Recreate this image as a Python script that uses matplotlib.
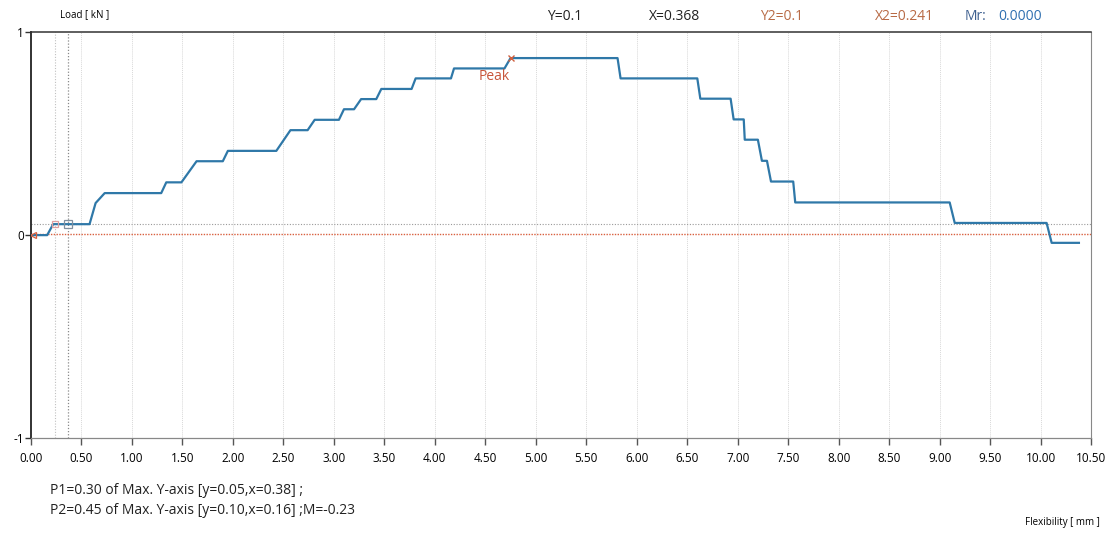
import matplotlib
matplotlib.use("Agg")
import matplotlib.pyplot as plt

plt.rcParams['font.family'] = ['Open Sans', 'DejaVu Sans']

# Load / flexibility curve (step-like vertices)
flex_mm = [0.00, 0.16, 0.22, 0.58, 0.64, 0.73, 1.29, 1.34, 1.49, 1.64, 1.90, 1.95,
           2.43, 2.57, 2.74, 2.81, 3.05, 3.10, 3.20, 3.27, 3.42, 3.47, 3.77, 3.81,
           4.16, 4.19, 4.69, 4.75, 5.81, 5.84, 6.60, 6.63, 6.93, 6.96, 7.06, 7.07,
           7.20, 7.24, 7.29, 7.33, 7.55, 7.57, 9.10, 9.15, 10.06, 10.11, 10.38]
load_kn = [0.000, 0.000, 0.054, 0.054, 0.158, 0.207, 0.207, 0.260, 0.260, 0.364, 0.364, 0.415,
           0.415, 0.517, 0.517, 0.568, 0.568, 0.620, 0.620, 0.670, 0.670, 0.720, 0.720, 0.772,
           0.772, 0.821, 0.821, 0.872, 0.872, 0.772, 0.772, 0.672, 0.672, 0.570, 0.570, 0.470,
           0.470, 0.366, 0.366, 0.264, 0.264, 0.161, 0.161, 0.060, 0.060, -0.038, -0.038]

x_ticks = [0.0, 0.5, 1.0, 1.5, 2.0, 2.5, 3.0, 3.5, 4.0, 4.5, 5.0, 5.5, 6.0, 6.5, 7.0,
           7.5, 8.0, 8.5, 9.0, 9.5, 10.0, 10.5]
y_ticks = [-1, 0, 1]

peak_x, peak_y = 4.75, 0.872
cursor_x, cursor_x2 = 0.368, 0.241
cursor_y = 0.054
zero_line = 0.005

fig = plt.figure(figsize=(11.15, 5.35), dpi=100)
ax = fig.add_axes([0.0278, 0.181, 0.9507, 0.759])

ax.set_xlim(0, 10.5)
ax.set_ylim(-1, 1)

# vertical grid
for xv in x_ticks[1:-1]:
    ax.axvline(xv, color="#d8d8d8", lw=0.7, ls=(0, (1, 1)), zorder=0)

# cursor lines
ax.axvline(cursor_x, color="#8a8a8a", lw=0.9, ls=(0, (1, 1.5)), zorder=1)
ax.axvline(cursor_x2, color="#c0c0c0", lw=0.8, ls=(0, (1, 1.5)), zorder=1)
ax.axhline(cursor_y, color="#9a9a9a", lw=0.8, ls=(0, (1, 1.5)), zorder=1)
ax.axhline(zero_line, color="#d9603f", lw=1.0, ls=(0, (1, 1)), zorder=1)

ax.plot(flex_mm, load_kn, color="#2f78a8", lw=1.6, zorder=3)

# markers
ax.plot([cursor_x2], [cursor_y], marker="s", ms=5, mfc="none", mec="#e0a0a0", mew=0.9, zorder=4)
ax.plot([cursor_x], [cursor_y], marker="s", ms=6, mfc="none", mec="#8090a0", mew=0.9, zorder=4)
ax.plot([0.02], [0.0], marker="<", ms=4, mfc="none", mec="#d9603f", mew=0.9, zorder=4)
ax.plot([peak_x], [peak_y], marker="x", ms=5, color="#d0603f", mew=1.0, zorder=4)
ax.text(peak_x - 0.16, peak_y - 0.09, "Peak", color="#c8553a", fontsize=10,
        ha="center", va="center")

ax.set_xticks(x_ticks)
ax.set_xticklabels([f"{v:.2f}" for v in x_ticks], fontsize=8.5)
ax.set_yticks(y_ticks)
ax.set_yticklabels([str(v) for v in y_ticks], fontsize=8.5)
ax.tick_params(axis="x", direction="out", length=5, width=1, color="#555555", pad=5)
ax.tick_params(axis="y", direction="out", length=4, width=1, color="#333333", pad=1)

ax.spines["left"].set_color("#222222")
ax.spines["left"].set_linewidth(1.3)
ax.spines["top"].set_color("#333333")
ax.spines["top"].set_linewidth(1.1)
ax.spines["right"].set_color("#888888")
ax.spines["right"].set_linewidth(0.8)
ax.spines["bottom"].set_color("#888888")
ax.spines["bottom"].set_linewidth(0.9)

# header texts
fig.text(60 / 1115, 1 - 15 / 535, "Load [ kN ]", fontsize=7, va="center")
fig.text(565 / 1115, 1 - 16 / 535, "Y=0.1", fontsize=10, ha="center", va="center", color="#222222")
fig.text(675 / 1115, 1 - 16 / 535, "X=0.368", fontsize=10, ha="center", va="center", color="#222222")
fig.text(782 / 1115, 1 - 16 / 535, "Y2=0.1", fontsize=10, ha="center", va="center", color="#b86a45")
fig.text(905 / 1115, 1 - 16 / 535, "X2=0.241", fontsize=10, ha="center", va="center", color="#b86a45")
fig.text(975 / 1115, 1 - 16 / 535, "Mr:", fontsize=10, ha="center", va="center", color="#3d5f8f")
fig.text(1020 / 1115, 1 - 17 / 535, "0.0000", fontsize=10, ha="center", va="center", color="#2e6fb0")

# bottom notes
fig.text(50 / 1115, 1 - 490 / 535, "P1=0.30 of Max. Y-axis [y=0.05,x=0.38] ;",
         fontsize=10, va="center", color="#222222")
fig.text(50 / 1115, 1 - 511 / 535, "P2=0.45 of Max. Y-axis [y=0.10,x=0.16] ;M=-0.23",
         fontsize=10, va="center", color="#222222")
fig.text(1100 / 1115, 1 - 523 / 535, "Flexibility [ mm ]", fontsize=7, ha="right", va="center")

fig.savefig("out.png", dpi=100)
